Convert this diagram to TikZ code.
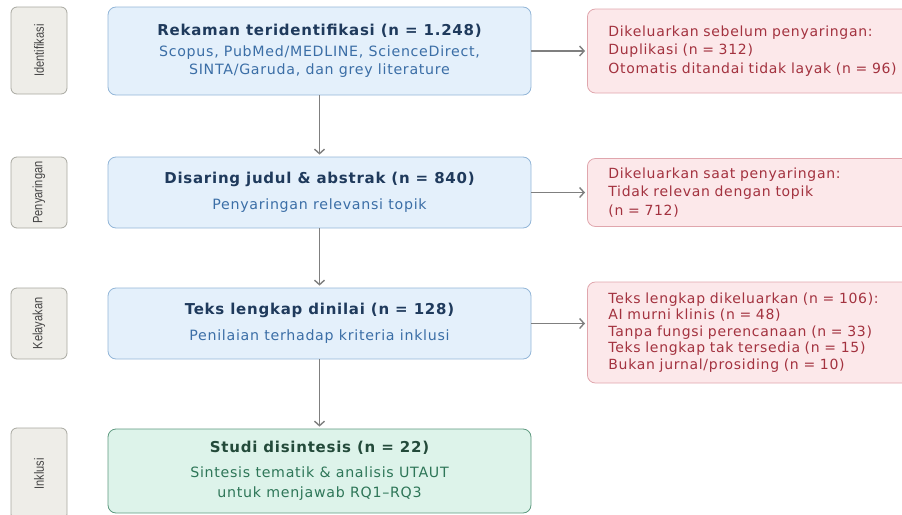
\documentclass[tikz,border=0pt]{standalone}
\usepackage{fontspec}
\setmainfont{DejaVu Sans}[LetterSpace=5]
\newfontfamily\phasefont{Liberation Sans}[FakeStretch=0.82]
\usetikzlibrary{arrows.meta}

\definecolor{phaseFill}{HTML}{EEEDE8}
\definecolor{phaseLine}{HTML}{A8A8A0}
\definecolor{phaseText}{HTML}{444444}
\definecolor{blueFill}{HTML}{E4F0FB}
\definecolor{blueLine}{HTML}{93B6D8}
\definecolor{blueHead}{HTML}{1F3A5C}
\definecolor{blueSub}{HTML}{3B6EA6}
\definecolor{redFill}{HTML}{FCE8EA}
\definecolor{redLine}{HTML}{E0A6AD}
\definecolor{redText}{HTML}{A3323F}
\definecolor{greenFill}{HTML}{DDF3EA}
\definecolor{greenLine}{HTML}{5E9A80}
\definecolor{greenHead}{HTML}{234A3A}
\definecolor{greenSub}{HTML}{2E7658}
\definecolor{arrowGray}{HTML}{7F7F7F}

\newcommand{\headline}[1]{{\bfseries\fontsize{15}{18}\selectfont #1}}

\begin{document}
\begin{tikzpicture}
[x=1pt,y=-1pt,
  flowArrow/.style={-{Straight Barb[length=4.5pt,width=10pt]},line width=1.4pt,color=arrowGray,shorten >=2pt},%
  phaseBox/.style={draw=phaseLine,fill=phaseFill,line width=0.8pt,rounded corners=6pt,rotate=90,
    inner sep=0pt,minimum height=56pt,text=phaseText,font=\phasefont\fontsize{13.5}{13.5}\selectfont},%
  stepBox/.style={draw=blueLine,fill=blueFill,line width=0.8pt,rounded corners=8pt,inner sep=0pt,
    minimum width=423pt,align=center,text=blueSub,font=\fontsize{14.2}{18}\selectfont},%
  finalBox/.style={stepBox,draw=greenLine,fill=greenFill,text=greenSub,font=\fontsize{14.2}{20}\selectfont},%
  exclBox/.style={draw=redLine,fill=redFill,line width=0.8pt,rounded corners=8pt,anchor=west,
    inner xsep=21pt,inner ysep=0pt,text width=360pt,align=left,text=redText,
    font=\fontsize{14}{18.5}\selectfont}]
\useasboundingbox (0,0) rectangle (902,514);
\clip (0,0) rectangle (902,514);

%% phase labels on the left
\foreach \name/\txt/\yc/\len in {phaseA/Identifikasi/50.5/87, phaseB/Penyaringan/192.5/71,
  phaseC/Kelayakan/323.5/71, phaseD/Inklusi/474/92}
{
  \node[phaseBox,minimum width=\len pt] (\name) at (39,\yc) {\txt};
}

%% main flow boxes
\node[stepBox,minimum height=88pt] (ident) at (319.5,51)
  {\headline{\color{blueHead}Rekaman teridentifikasi (n = 1.248)}\\[3pt]
   Scopus, PubMed/MEDLINE, ScienceDirect,\\ SINTA/Garuda, dan grey literature};
\node[stepBox,minimum height=71pt] (screen) at (319.5,192.5)
  {\headline{\color{blueHead}Disaring judul \& abstrak (n = 840)}\\[8pt]
   Penyaringan relevansi topik};
\node[stepBox,minimum height=71pt] (elig) at (319.5,323.5)
  {\headline{\color{blueHead}Teks lengkap dinilai (n = 128)}\\[8pt]
   Penilaian terhadap kriteria inklusi};
\node[finalBox,minimum height=84pt] (incl) at (319.5,471)
  {\headline{\color{greenHead}Studi disintesis (n = 22)}\\[5pt]
   Sintesis tematik \& analisis UTAUT\\ untuk menjawab RQ1--RQ3};

%% exclusion boxes on the right
\node[exclBox,minimum height=84pt] (exclA) at (587,51)
  {Dikeluarkan sebelum penyaringan:\\ Duplikasi (n = 312)\\ Otomatis ditandai tidak layak (n = 96)};
\node[exclBox,minimum height=68pt] (exclB) at (587,192.5)
  {Dikeluarkan saat penyaringan:\\ Tidak relevan dengan topik\\ (n = 712)};
\node[exclBox,minimum height=101pt,font=\fontsize{14}{16.5}\selectfont] (exclC) at (587,332.5)
  {Teks lengkap dikeluarkan (n = 106):\\ AI murni klinis (n = 48)\\ Tanpa fungsi perencanaan (n = 33)\\
   Teks lengkap tak tersedia (n = 15)\\ Bukan jurnal/prosiding (n = 10)};

%% arrows
\path
\foreach \startnode/\endnode in {ident/screen, screen/elig, elig/incl, ident/exclA, screen/exclB}
{
  (\startnode) edge[flowArrow] (\endnode)
};
\draw[flowArrow] (elig.east) -- (elig.east -| exclC.west);
\end{tikzpicture}
\end{document}
